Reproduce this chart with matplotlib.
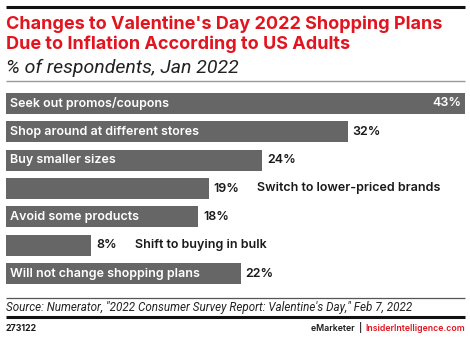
import matplotlib
matplotlib.use('Agg')
import matplotlib.pyplot as plt
from matplotlib.lines import Line2D

# survey answers, top to bottom
categories = ['Seek out promos/coupons', 'Shop around at different stores',
              'Buy smaller sizes', 'Switch to lower-priced brands',
              'Avoid some products', 'Shift to buying in bulk',
              'Will not change shopping plans']
values = [43, 32, 24, 19, 18, 8, 22]
# which category names sit inside the bar
inside = [True, True, True, False, True, False, True]

W, H = 470, 337
RED = '#e2141f'
BAR = '#666666'
INK = '#1a1a1a'
FONT = 'Inter'
IFONT = 'Roboto'

fig = plt.figure(figsize=(W / 100, H / 100), dpi=100)
fig.patch.set_facecolor('white')


def fy(py):
    return 1 - py / H


def fx(px):
    return px / W


def hline(py, x0, x1, color, lw):
    fig.add_artist(Line2D([fx(x0), fx(x1)], [fy(py), fy(py)], color=color,
                          linewidth=lw, transform=fig.transFigure,
                          solid_capstyle='butt'))


# header
hline(7, 6, 465, '#111111', 2.2)
fig.text(fx(6), fy(29), "Changes to Valentine's Day 2022 Shopping Plans",
         family=FONT, weight='bold', fontsize=13, color=RED, va='baseline')
fig.text(fx(6), fy(49), "Due to Inflation According to US Adults",
         family=FONT, weight='bold', fontsize=13, color=RED, va='baseline')
fig.text(fx(6), fy(73), "% of respondents, Jan 2022",
         family=IFONT, style='italic', fontsize=14, color='#222222', va='baseline')
hline(80.5, 6, 465, '#999999', 1.0)

# bars
top, bottom = 89, 288
ax = fig.add_axes([fx(6), fy(bottom), fx(459), (bottom - top) / H])
ypos = list(range(len(values)))
ax.barh(ypos, values, height=0.74, color=BAR, edgecolor='none')
ax.set_xlim(0, 43)
ax.set_ylim(len(values) - 0.5, -0.5)
ax.axis('off')

fig.canvas.draw()
renderer = fig.canvas.get_renderer()
px_per_unit = 459 / 43

for i, (cat, v) in enumerate(zip(categories, values)):
    if inside[i]:
        ax.text(0.35, i, cat, color='white', family=FONT, weight='semibold',
                fontsize=9, va='center', ha='left')
    if v == max(values):
        ax.text(v - 0.3, i, f'{v}%', color='white', family=FONT, weight='semibold',
                fontsize=9, va='center', ha='right')
        continue
    t = ax.text(v + 0.45, i, f'{v}%', color=INK, family=FONT, weight='semibold',
                fontsize=9, va='center', ha='left')
    if not inside[i]:
        bb = t.get_window_extent(renderer)
        x_end = ax.transData.inverted().transform((bb.x1, 0))[0]
        ax.text(x_end + 18 / px_per_unit, i, cat, color=INK, family=FONT,
                weight='semibold', fontsize=9, va='center', ha='left')

# footer
hline(298, 6, 465, '#555555', 0.9)
fig.text(fx(6), fy(310.5), 'Source: Numerator, "2022 Consumer Survey Report: Valentine\'s Day," Feb 7, 2022',
         family=IFONT, style='italic', fontsize=8.4, color='#222222', va='baseline')
hline(317, 6, 465, '#111111', 2.2)
fig.text(fx(6), fy(331), '273122', family=FONT, weight='bold', fontsize=6.3,
         color=INK, va='baseline')
site = fig.text(fx(465), fy(331), 'InsiderIntelligence.com', family=FONT,
                weight='semibold', fontsize=6.3, color=RED, va='baseline', ha='right')
bb = site.get_window_extent(renderer)
fig.text((bb.x0 - 3) / W, fy(331), 'eMarketer  |', family=FONT, weight='semibold',
         fontsize=6.3, color=INK, va='baseline', ha='right')

fig.savefig('out.png', dpi=100)
